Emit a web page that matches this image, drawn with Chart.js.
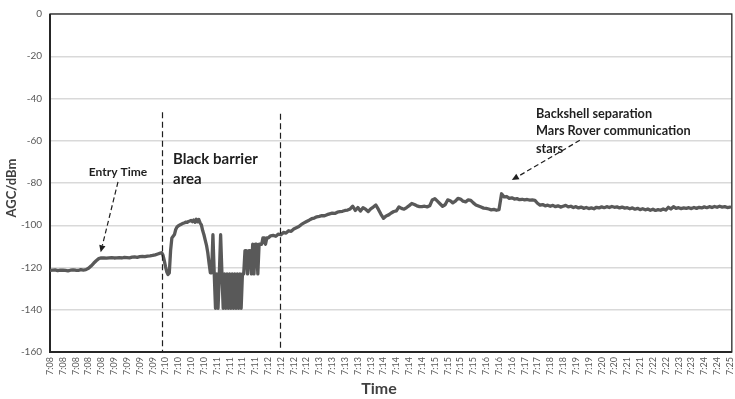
<!DOCTYPE html>
<html>
<head>
<meta charset="utf-8">
<script src="https://cdn.jsdelivr.net/npm/chart.js@4/dist/chart.umd.min.js"></script>
<style>
  html, body { margin: 0; padding: 0; background: #ffffff; }
  canvas { display: block; }
</style>
</head>
<body>
<canvas id="agc" width="735" height="399"></canvas>
<script>
// Time labels shown on the x axis, one every ten samples
const tickLabels = [
  '7:08','7:08','7:08','7:08','7:08',
  '7:09','7:09','7:09','7:09',
  '7:10','7:10','7:10','7:10',
  '7:11','7:11','7:11','7:11',
  '7:12','7:12','7:12','7:12',
  '7:13','7:13','7:13','7:13','7:13',
  '7:14','7:14','7:14','7:14',
  '7:15','7:15','7:15','7:15',
  '7:16','7:16','7:16',
  '7:17','7:17',
  '7:18','7:18',
  '7:19','7:19',
  '7:20','7:20',
  '7:21','7:21',
  '7:22','7:22',
  '7:23','7:23',
  '7:24','7:24',
  '7:25'
];
const samplesPerLabel = 10;
const yTicks = [0, -20, -40, -60, -80, -100, -120, -140, -160];

// AGC before and through atmospheric entry (samples 0..86, every 2nd sample)
const cruiseStart = 0, cruiseStep = 2;
const cruiseAgc = [
  -121.4, -121.2, -121.1, -121.5, -121.3, -121.2, -121.4, -121.6, -121.3, -121.1,
  -121.3, -121.4, -121.0, -121.2, -121.0, -120.4, -119.3, -118.0, -116.8, -115.8,
  -115.4, -115.5, -115.6, -115.4, -115.3, -115.5, -115.4, -115.3, -115.5, -115.2,
  -115.3, -115.4, -115.1, -115.0, -115.2, -114.9, -114.8, -114.9, -114.6, -114.5,
  -114.3, -114.0, -113.6, -113.2
];

// AGC inside the blackout region (samples 87..171, every sample)
const barrierStart = 87, barrierStep = 1;
const barrierAgc = [
  -113.0, -114.0, -116.5, -119.5, -122.0, -123.3, -122.6, -112.0, -106.0, -105.2,
  -104.4, -102.0, -100.8, -100.3, -99.9, -99.6, -99.3, -99.0, -98.8, -98.5,
  -98.6, -98.2, -98.0, -97.7, -98.3, -97.5, -98.6, -97.2, -98.4, -97.3,
  -98.9, -99.8, -102.5, -104.5, -107.0, -109.5, -113.0, -118.0, -122.5, -122.5,
  -104.5, -122.5, -139.3, -123.0, -139.3, -123.0, -104.5, -122.5, -139.3, -123.0,
  -139.3, -123.0, -139.3, -123.0, -139.3, -123.0, -139.3, -123.0, -139.3, -123.0,
  -139.3, -123.0, -139.3, -123.0, -123.0, -112.0, -112.0, -123.0, -112.0, -112.0,
  -123.0, -109.0, -123.0, -109.0, -109.0, -123.0, -109.0, -109.0, -109.0, -106.0,
  -106.0, -109.0, -106.0, -106.0, -105.5
];

// AGC after the blackout, through backshell separation (samples 172..530, every 2nd sample)
const recoveryStart = 172, recoveryStep = 2;
const recoveryAgc = [
  -105.0, -104.8, -105.2, -104.2, -104.5, -103.4, -103.7, -102.6, -102.9, -101.8,
  -101.2, -100.6, -99.6, -98.9, -98.2, -97.6, -96.9, -96.6, -96.0, -95.8,
  -95.4, -95.5, -95.0, -94.6, -94.3, -94.4, -93.8, -93.6, -93.4, -93.0,
  -92.8, -92.3, -91.0, -93.0, -91.6, -93.3, -91.7, -92.4, -93.5, -92.2,
  -91.4, -90.4, -92.5, -94.8, -96.7, -95.6, -95.1, -94.2, -93.5, -93.2,
  -91.3, -92.0, -92.4, -91.6, -90.7, -89.7, -90.2, -90.8, -91.2, -91.2,
  -91.0, -91.3, -90.8, -88.0, -87.4, -88.6, -89.8, -91.0, -90.3, -88.0,
  -88.4, -89.4, -88.6, -87.3, -87.6, -88.6, -88.9, -88.0, -88.2, -89.4,
  -90.4, -90.9, -91.4, -91.9, -92.0, -92.3, -92.7, -92.5, -92.9, -92.6,
  -85.1, -86.6, -86.4, -87.3, -87.0, -87.6, -87.4, -87.9, -87.7, -88.0,
  -87.8, -88.1, -88.0, -88.2, -89.6, -90.5, -90.2, -90.8, -90.5, -91.0,
  -90.6, -91.2, -90.8, -91.4, -91.0, -90.6, -91.3, -91.0, -91.6, -91.2,
  -91.8, -91.4, -92.0, -91.6, -92.1, -91.8, -92.2, -91.5, -91.8, -91.3,
  -91.7, -91.2, -91.6, -91.1, -91.5, -91.3, -91.8, -91.4, -91.9, -91.7,
  -92.2, -91.8, -92.4, -92.0, -92.6, -92.2, -92.7, -92.3, -92.9, -92.4,
  -93.0, -92.6, -92.9, -92.3, -92.8, -91.5, -92.3, -91.2, -92.0, -91.7,
  -92.1, -91.8, -92.0, -91.7, -92.1, -91.6, -92.0, -91.5, -91.8, -91.3,
  -91.7, -91.2, -91.6, -91.1, -91.5, -91.0, -91.4, -91.2, -91.6, -91.4
];

// Blackout boundaries (sample number) and the AGC level where each dashed marker starts
const barrierEdges = [87, 179];
const barrierEdgeTops = [-46.5, -47.2];

const FONT = 'Lato, "Open Sans", "DejaVu Sans", sans-serif';
const INK = '#1f1f1f';

function phasePoints(start, step, values) {
  return values.map((v, i) => ({ x: start + i * step, y: v }));
}

const agcPoints = [
  ...phasePoints(cruiseStart, cruiseStep, cruiseAgc),
  ...phasePoints(barrierStart, barrierStep, barrierAgc),
  ...phasePoints(recoveryStart, recoveryStep, recoveryAgc)
];
const lastSample = (tickLabels.length - 1) * samplesPerLabel;

function dashedArrow(ctx, x1, y1, x2, y2) {
  const ang = Math.atan2(y2 - y1, x2 - x1);
  const head = 7, half = 3.2;
  const ex = x2 - Math.cos(ang) * head, ey = y2 - Math.sin(ang) * head;
  ctx.save();
  ctx.strokeStyle = INK;
  ctx.fillStyle = INK;
  ctx.lineWidth = 1.2;
  ctx.setLineDash([5, 3]);
  ctx.beginPath();
  ctx.moveTo(x1, y1);
  ctx.lineTo(ex, ey);
  ctx.stroke();
  ctx.setLineDash([]);
  ctx.beginPath();
  ctx.moveTo(x2, y2);
  ctx.lineTo(ex + Math.sin(ang) * half, ey - Math.cos(ang) * half);
  ctx.lineTo(ex - Math.sin(ang) * half, ey + Math.cos(ang) * half);
  ctx.closePath();
  ctx.fill();
  ctx.restore();
}

// Plot frame drawn under the trace
const framePlugin = {
  id: 'frame',
  beforeDatasetsDraw(chart) {
    const { ctx, chartArea: a } = chart;
    ctx.save();
    ctx.strokeStyle = '#262626';
    ctx.lineWidth = 1.3;
    ctx.strokeRect(a.left, a.top, a.right - a.left, a.bottom - a.top);
    ctx.lineWidth = 2;
    ctx.beginPath();
    ctx.moveTo(a.left, a.top);
    ctx.lineTo(a.left, a.bottom);
    ctx.lineTo(a.right, a.bottom);
    ctx.stroke();
    ctx.restore();
  }
};

// Axis titles, blackout boundaries and event notes
const notesPlugin = {
  id: 'notes',
  afterDatasetsDraw(chart) {
    const { ctx, chartArea: a } = chart;
    const xs = chart.scales.x, ys = chart.scales.y;
    const px = (s) => xs.getPixelForValue(s);
    const py = (v) => ys.getPixelForValue(v);

    ctx.save();
    // dashed blackout boundaries
    ctx.strokeStyle = INK;
    ctx.lineWidth = 1.2;
    ctx.setLineDash([6, 3.5]);
    barrierEdges.forEach((s, i) => {
      ctx.beginPath();
      ctx.moveTo(Math.round(px(s)) + 0.5, py(barrierEdgeTops[i]));
      ctx.lineTo(Math.round(px(s)) + 0.5, a.bottom);
      ctx.stroke();
    });
    ctx.setLineDash([]);

    ctx.fillStyle = INK;
    ctx.textBaseline = 'alphabetic';

    // entry time
    ctx.font = 'bold 12px ' + FONT;
    ctx.textAlign = 'center';
    ctx.fillText('Entry Time', px(53), py(-76.5));
    dashedArrow(ctx, px(53), py(-79.5), px(39.5), py(-112.8));

    // blackout region
    ctx.font = 'bold 15px ' + FONT;
    ctx.textAlign = 'left';
    ctx.fillText('Black barrier', px(95.9), py(-70.8));
    ctx.fillText('area', px(95.9), py(-80.6));

    // backshell separation
    ctx.font = 'bold 12.7px ' + FONT;
    ctx.fillText('Backshell separation', px(378.8), py(-49.0));
    ctx.fillText('Mars Rover communication', px(378.8), py(-57.4));
    ctx.fillText('stars', px(378.8), py(-65.8));
    dashedArrow(ctx, px(413), py(-59.8), px(360), py(-78.6));

    // axis titles
    ctx.fillStyle = '#404040';
    ctx.font = 'bold 16px ' + FONT;
    ctx.textAlign = 'center';
    ctx.textBaseline = 'middle';
    ctx.fillText('Time', 379, 389);
    ctx.translate(12, (a.top + a.bottom) / 2 + 5);
    ctx.rotate(-Math.PI / 2);
    ctx.font = 'bold 13px ' + FONT;
    ctx.fillText('AGC/dBm', 0, 0);
    ctx.restore();
  }
};

new Chart(document.getElementById('agc'), {
  type: 'line',
  data: {
    datasets: [{
      data: agcPoints,
      borderColor: '#595959',
      borderWidth: 3.3,
      pointRadius: 0,
      tension: 0,
      fill: false,
      borderJoinStyle: 'round',
      borderCapStyle: 'round'
    }]
  },
  options: {
    responsive: false,
    animation: false,
    devicePixelRatio: 1,
    layout: { padding: { top: 5, right: 0, left: 0, bottom: 0 } },
    plugins: { legend: { display: false }, tooltip: { enabled: false } },
    scales: {
      x: {
        type: 'linear',
        min: 0,
        max: lastSample + 1.5,
        afterBuildTicks(scale) {
          scale.ticks = tickLabels.map((_, i) => ({ value: i * samplesPerLabel }));
        },
        afterFit(scale) { scale.height = 47; },
        ticks: {
          autoSkip: false,
          maxRotation: 90,
          minRotation: 90,
          padding: 5,
          color: '#595959',
          font: { family: FONT, size: 9, lineHeight: 0.01 },
          callback: (v) => tickLabels[Math.round(v / samplesPerLabel)]
        },
        grid: { display: false, drawTicks: false },
        border: { display: false }
      },
      y: {
        min: -160,
        max: 0,
        afterBuildTicks(scale) {
          scale.ticks = yTicks.map(v => ({ value: v }));
        },
        afterFit(scale) { scale.width = 50; },
        ticks: {
          padding: 8,
          color: '#595959',
          font: { family: FONT, size: 10 }
        },
        grid: { color: '#d9d9d9', lineWidth: 1.5, drawTicks: false },
        border: { display: false }
      }
    }
  },
  plugins: [framePlugin, notesPlugin]
});
</script>
</body>
</html>
